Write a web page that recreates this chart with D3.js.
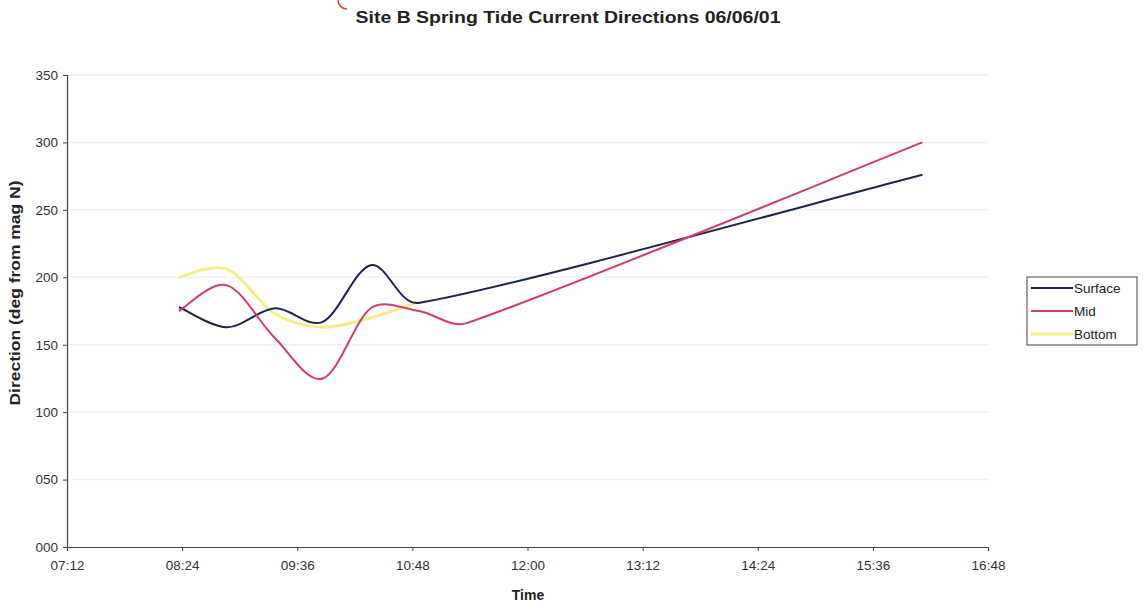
<!DOCTYPE html>
<html>
<head>
<meta charset="utf-8">
<script src="https://cdn.jsdelivr.net/npm/d3@7"></script>
<style>
  body { margin: 0; background: #fff; }
  svg { display: block; font-family: "Liberation Sans", Arial, sans-serif; }
</style>
</head>
<body>
<div id="chart"></div>
<script>
// x axis tick labels (time of day)
var timeTicks = ["07:12", "08:24", "09:36", "10:48", "12:00", "13:12", "14:24", "15:36", "16:48"];
var dirTicks = [0, 50, 100, 150, 200, 250, 300, 350];

// readings
var surfaceTimes = ["08:22", "08:52", "09:22", "09:52", "10:22", "10:52", "16:07"];
var surfaceValues = [178, 163, 177, 167, 209, 181, 276];
var midTimes = ["08:22", "08:52", "09:22", "09:52", "10:22", "10:52", "11:22", "16:07"];
var midValues = [175, 194, 155, 125, 177, 175, 166, 300];
var bottomTimes = ["08:22", "08:52", "09:22", "09:52", "10:22", "10:52"];
var bottomValues = [200, 206, 173, 163, 170, 182];

var seriesNames = ["Surface", "Mid", "Bottom"];
var seriesColors = ["#1e2450", "#d43a73", "#f2f08a"];
var seriesWidths = [2, 2, 3];

function toMin(s) {
  var p = s.split(":");
  return +p[0] * 60 + +p[1];
}

// spreadsheet style smoothing: bezier with tangents (next - prev)/6,
// clamped so short segments do not loop when the next gap is long
function SmoothCurve(context) { this._context = context; }
SmoothCurve.prototype = {
  areaStart: function () {},
  areaEnd: function () {},
  lineStart: function () { this._pts = []; },
  point: function (x, y) { this._pts.push([+x, +y]); },
  lineEnd: function () {
    var p = this._pts, n = p.length, c = this._context;
    if (!n) return;
    c.moveTo(p[0][0], p[0][1]);
    function tangent(i, len) {
      var a = p[Math.max(i - 1, 0)], b = p[Math.min(i + 1, n - 1)];
      var tx = (b[0] - a[0]) / 6, ty = (b[1] - a[1]) / 6;
      var tl = Math.sqrt(tx * tx + ty * ty), lim = len / 3;
      if (tl > lim && tl > 0) { tx *= lim / tl; ty *= lim / tl; }
      return [tx, ty];
    }
    for (var i = 0; i < n - 1; i++) {
      var A = p[i], B = p[i + 1];
      var len = Math.hypot(B[0] - A[0], B[1] - A[1]);
      var ta = tangent(i, len), tb = tangent(i + 1, len);
      c.bezierCurveTo(A[0] + ta[0], A[1] + ta[1], B[0] - tb[0], B[1] - tb[1], B[0], B[1]);
    }
  }
};
function smoothCurve(context) { return new SmoothCurve(context); }

var width = 1147, height = 605;
var svg = d3.select("#chart").append("svg")
  .attr("width", width)
  .attr("height", height);

var x = d3.scaleLinear()
  .domain([toMin("07:12"), toMin("16:48")])
  .range([67, 988]);
var y = d3.scaleLinear()
  .domain([0, 350])
  .range([547, 75]);

// faint gridlines
svg.append("g")
  .selectAll("line")
  .data(dirTicks.slice(1))
  .enter()
  .append("line")
  .attr("x1", x.range()[0])
  .attr("x2", x.range()[1])
  .attr("y1", function (d) { return y(d); })
  .attr("y2", function (d) { return y(d); })
  .attr("stroke", "#ecf3f2")
  .attr("stroke-width", 1.5);

// axes
var yAxis = d3.axisLeft(y)
  .tickValues(dirTicks)
  .tickFormat(d3.format("03d"))
  .tickSize(4)
  .tickPadding(5);
var gy = svg.append("g").attr("transform", "translate(67,0)").call(yAxis);

var xAxis = d3.axisBottom(x)
  .tickValues(timeTicks.map(toMin))
  .tickFormat(function (d, i) { return timeTicks[i]; })
  .tickSize(4)
  .tickPadding(9);
var gx = svg.append("g").attr("transform", "translate(0,547)").call(xAxis);

[gx, gy].forEach(function (g) {
  g.select(".domain").attr("stroke", "#444").attr("stroke-width", 1.2);
  g.selectAll(".tick line").attr("stroke", "#444");
  g.selectAll(".tick text").attr("fill", "#333").style("font-size", "13.5px");
});

// series lines
var allSeries = [
  surfaceTimes.map(function (t, i) { return [toMin(t), surfaceValues[i]]; }),
  midTimes.map(function (t, i) { return [toMin(t), midValues[i]]; }),
  bottomTimes.map(function (t, i) { return [toMin(t), bottomValues[i]]; })
];

var line = d3.line()
  .x(function (d) { return x(d[0]); })
  .y(function (d) { return y(d[1]); })
  .curve(smoothCurve);

// draw bottom first so the others sit on top
[2, 0, 1].forEach(function (k) {
  svg.append("path")
    .datum(allSeries[k])
    .attr("d", line)
    .attr("fill", "none")
    .attr("stroke", seriesColors[k])
    .attr("stroke-width", seriesWidths[k])
    .attr("stroke-linejoin", "round");
});

// title
svg.append("text")
  .attr("x", 568)
  .attr("y", 23)
  .attr("text-anchor", "middle")
  .attr("font-weight", "bold")
  .attr("font-size", 17)
  .attr("textLength", 425)
  .attr("lengthAdjust", "spacingAndGlyphs")
  .attr("fill", "#222")
  .text("Site B Spring Tide Current Directions 06/06/01");

// little red mark above the title
svg.append("path")
  .attr("d", "M338,0 A9,9 0 0 0 347,9")
  .attr("fill", "none")
  .attr("stroke", "#d04a30")
  .attr("stroke-width", 1.5);

// axis titles
svg.append("text")
  .attr("x", 528)
  .attr("y", 600)
  .attr("text-anchor", "middle")
  .attr("font-weight", "bold")
  .attr("font-size", 14)
  .attr("fill", "#222")
  .text("Time");

svg.append("text")
  .attr("transform", "translate(20,293) rotate(-90)")
  .attr("text-anchor", "middle")
  .attr("font-weight", "bold")
  .attr("font-size", 14)
  .attr("textLength", 225)
  .attr("lengthAdjust", "spacingAndGlyphs")
  .attr("fill", "#222")
  .text("Direction (deg from mag N)");

// legend
var legend = svg.append("g").attr("transform", "translate(1027,277)");
legend.append("rect")
  .attr("width", 110)
  .attr("height", 68)
  .attr("fill", "#fff")
  .attr("stroke", "#444")
  .attr("stroke-width", 1);

seriesNames.forEach(function (name, i) {
  var yy = 11 + i * 23;
  legend.append("line")
    .attr("x1", 4).attr("x2", 46)
    .attr("y1", yy).attr("y2", yy)
    .attr("stroke", seriesColors[i])
    .attr("stroke-width", seriesWidths[i]);
  legend.append("text")
    .attr("x", 47)
    .attr("y", yy + 5)
    .attr("font-size", 13.5)
    .attr("fill", "#222")
    .text(name);
});
</script>
</body>
</html>
